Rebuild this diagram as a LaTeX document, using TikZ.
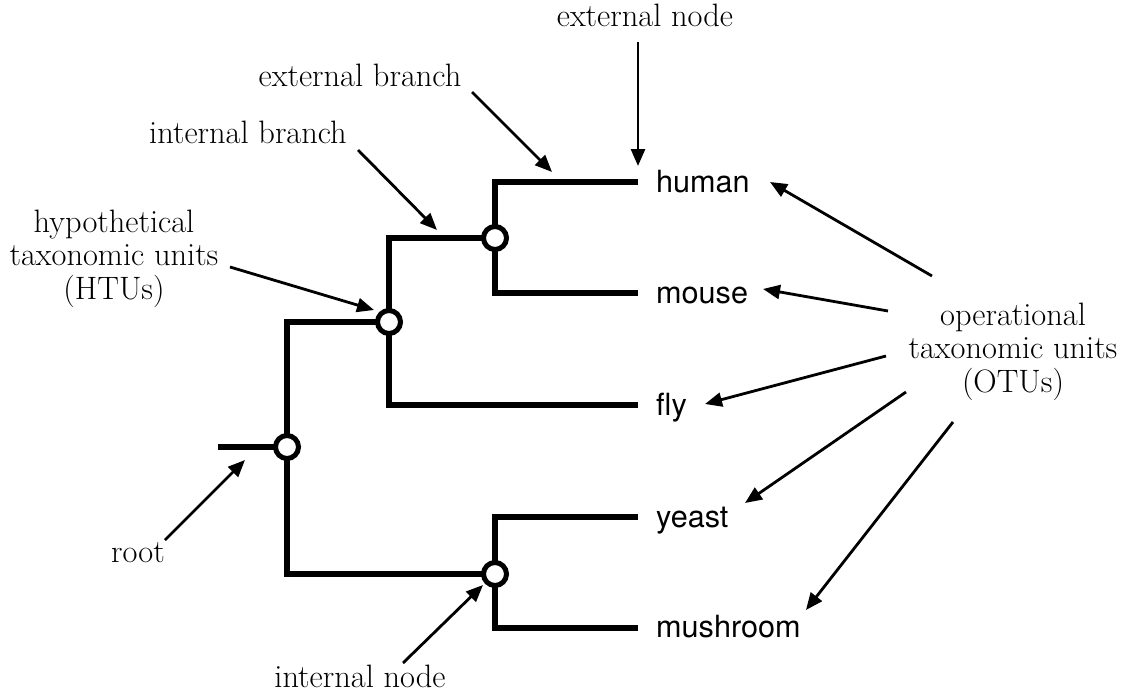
\documentclass[tikz,border=0pt]{standalone}
\usepackage{fontspec}
\setsansfont{TeX Gyre Heros}
\usetikzlibrary{arrows.meta}
\begin{document}
\begin{tikzpicture}[x=1pt,y=-1pt,
  branch/.style={line width=6pt, line join=miter},
  htu/.style={circle, draw, line width=5pt, fill=white, minimum size=23pt, inner sep=0pt},
  ptr/.style={line width=2.8pt, -{Triangle[length=17pt,width=14pt]}},
  lbl/.style={font=\fontsize{32.4}{33.2}\selectfont, align=center, anchor=base, inner sep=0pt},
  taxon/.style={font=\sffamily\fontsize{30.6}{34}\selectfont, anchor=base west, inner sep=0pt}]
\useasboundingbox (0,0) rectangle (1122,693);
% tree points
\coordinate (rootend) at (218,447);
\coordinate (r) at (287,447);
\coordinate (a) at (389,322);
\coordinate (b) at (495,238);
\coordinate (c) at (495,574);
\coordinate (thuman) at (638,182);
\coordinate (tmouse) at (638,293);
\coordinate (tfly) at (638,405);
\coordinate (tyeast) at (638,517);
\coordinate (tmush) at (638,628);
% branches
\draw[branch] (rootend) -- (r);
\draw[branch] (a) -| (r) |- (c);
\draw[branch] (b) -| (a) |- (tfly);
\draw[branch] (thuman) -| (b) |- (tmouse);
\draw[branch] (tyeast) -| (c) |- (tmush);
% internal nodes
\node[htu] (nr) at (r) {};
\node[htu] (na) at (a) {};
\node[htu] (nb) at (b) {};
\node[htu] (nc) at (c) {};
% taxa
\node[taxon] (human) at (656,192) {human};
\node[taxon] (mouse) at (656,303) {mouse};
\node[taxon] (fly) at (656,415) {fly};
\node[taxon] (yeast) at (656,527) {yeast};
\node[taxon] (mushroom) at (656,637) {mushroom};
% labels
\node[lbl] (extnode) at (645,27) {external node};
\node[lbl] (extbranch) at (360,87) {external branch};
\node[lbl] (intbranch) at (248,143) {internal branch};
\node[lbl] (htus) at (114,299) {hypothetical\\taxonomic units\\(HTUs)};
\node[lbl] (rootlbl) at (138,562) {root};
\node[lbl] (intnode) at (360,687) {internal node};
\node[lbl] (otus) at (1013,392) {operational\\taxonomic units\\(OTUs)};
% arrow end points
\coordinate (e1t) at (638,42);   \coordinate (e1h) at (638,166);
\coordinate (e2t) at (472,92);   \coordinate (e2h) at (552,172);
\coordinate (e3t) at (358,150);  \coordinate (e3h) at (437,230);
\coordinate (e4t) at (230,267);  \coordinate (e4h) at (374,310);
\coordinate (e5t) at (165,540);  \coordinate (e5h) at (245,460);
\coordinate (e6t) at (403,663);  \coordinate (e6h) at (483,585);
\coordinate (o1t) at (932,276);  \coordinate (o1h) at (770,182);
\coordinate (o2t) at (888,311);  \coordinate (o2h) at (763,289);
\coordinate (o3t) at (886,356);  \coordinate (o3h) at (705,404);
\coordinate (o4t) at (906,392);  \coordinate (o4h) at (745,503);
\coordinate (o5t) at (953,422);  \coordinate (o5h) at (806,610);
\draw[ptr] (e1t) -- (e1h);
\draw[ptr] (e2t) -- (e2h);
\draw[ptr] (e3t) -- (e3h);
\draw[ptr] (e4t) -- (e4h);
\draw[ptr] (e5t) -- (e5h);
\draw[ptr] (e6t) -- (e6h);
\draw[ptr] (o1t) -- (o1h);
\draw[ptr] (o2t) -- (o2h);
\draw[ptr] (o3t) -- (o3h);
\draw[ptr] (o4t) -- (o4h);
\draw[ptr] (o5t) -- (o5h);
\end{tikzpicture}
\end{document}
